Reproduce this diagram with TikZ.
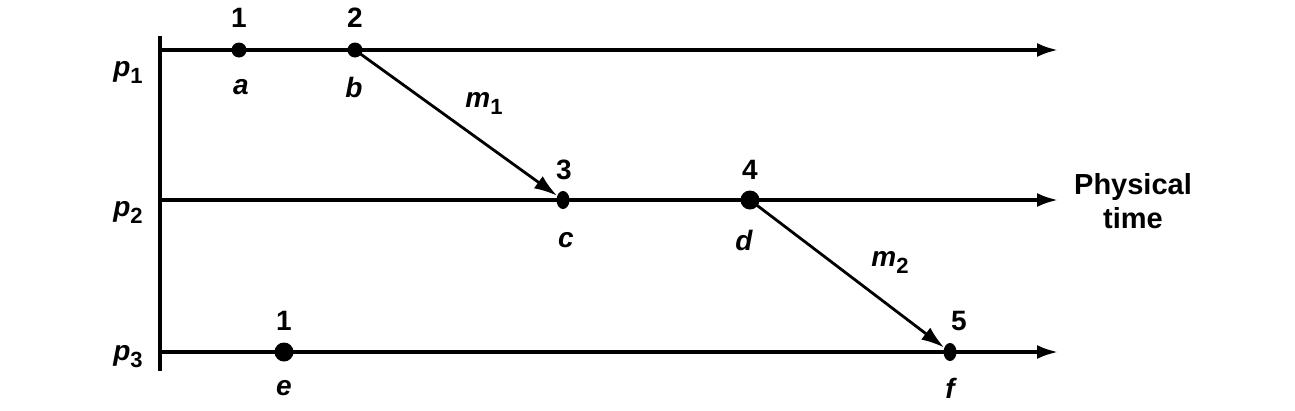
\documentclass[tikz,border=0pt]{standalone}
\usepackage{fontspec}
\setmainfont{Liberation Sans}
\usetikzlibrary{arrows.meta,shapes.geometric}
\newcommand{\lowsub}[1]{\raisebox{-7pt}{\fontsize{22}{24}\selectfont\upshape\bfseries #1}}
\begin{document}
\begin{tikzpicture}[x=1pt,y=-1pt,
  lbl/.style={font=\fontsize{28}{32}\selectfont\bfseries, inner sep=0pt},
  ilbl/.style={font=\fontsize{28}{32}\selectfont\bfseries\itshape, inner sep=0pt},
  dot/.style={circle, fill=black, inner sep=0pt, minimum size=15pt},
  bigdot/.style={circle, fill=black, inner sep=0pt, minimum size=19pt},
  edot/.style={ellipse, fill=black, inner sep=0pt, minimum width=13pt, minimum height=18pt},
  line/.style={line width=3.4pt},
  tl/.style={line, -{Latex[length=21pt,width=14pt]}},
  msg/.style={line width=2.8pt, -{Latex[length=23pt,width=15pt]}}
]
\useasboundingbox (0,0) rectangle (1295,410);
% axis
\coordinate (top) at (160,36);
\coordinate (bot) at (160,371);
\draw[line] (top) -- (bot);
\coordinate (s1) at (160,50);
\coordinate (s2) at (160,200);
\coordinate (s3) at (160,352);
\coordinate (e1) at (1058,50);
\coordinate (e2) at (1058,200);
\coordinate (e3) at (1058,352);
\draw[tl] (s1) -- (e1);
\draw[tl] (s2) -- (e2);
\draw[tl] (s3) -- (e3);
% events
\node[dot] (a) at (239,50) {};
\node[dot] (b) at (355,50) {};
\node[edot] (c) at (563,200) {};
\node[bigdot] (d) at (750,200) {};
\node[bigdot] (e) at (284,352) {};
\node[edot] (f) at (950,352) {};
% messages
\draw[msg] (b.center) -- (c);
\draw[msg] (d.center) -- (f);
% labels
\node[lbl] (n1) at (239,18) {1};
\node[lbl] (n2) at (355,18) {2};
\node[lbl] (n3) at (564,170) {3};
\node[lbl] (n4) at (750,170) {4};
\node[lbl] (n5) at (959,321) {5};
\node[lbl] (n6) at (284,321) {1};
\node[ilbl] (la) at (241,87) {a};
\node[ilbl] (lb) at (354,87) {b};
\node[ilbl] (lc) at (566,240) {c};
\node[ilbl] (ld) at (744,240) {d};
\node[ilbl] (le) at (284,388) {e};
\node[ilbl] (lf) at (950,388) {f};
\node[ilbl] (m1) at (484,103) {m\lowsub{1}};
\node[ilbl] (m2) at (890,262) {m\lowsub{2}};
\node[ilbl] (p1) at (128,72) {p\lowsub{1}};
\node[ilbl] (p2) at (128,212) {p\lowsub{2}};
\node[ilbl] (p3) at (128,357) {p\lowsub{3}};
\node[lbl, align=center, font=\fontsize{29}{34}\selectfont\bfseries] (pt) at (1133,201) {Physical\\time};
\end{tikzpicture}
\end{document}
